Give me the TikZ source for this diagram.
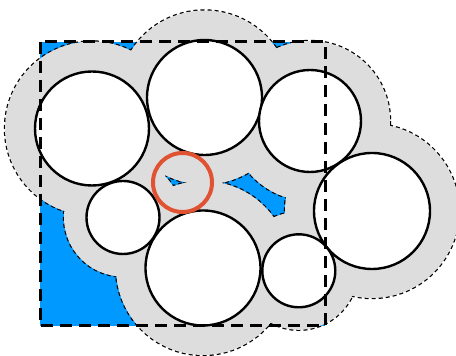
\documentclass[tikz,border=0pt]{standalone}
\usetikzlibrary{calc}
\definecolor{poreblue}{RGB}{0,153,255}
\definecolor{shellgray}{RGB}{221,221,221}
\definecolor{probeorange}{RGB}{224,82,50}

\begin{document}
\begin{tikzpicture}[x=0.5pt,y=-0.5pt,
    shellline/.style={line width=1.2pt,dash pattern=on 2pt off 1.5pt},
    shell/.style={fill=shellgray},
    ball/.style={draw=black,fill=white,line width=1.2pt},
    box/.style={line width=1.5pt,dash pattern=on 6pt off 3.5pt},
    probe/.style={draw=probeorange,line width=2pt}]
  \useasboundingbox (0,0) rectangle (456,356);
  \coordinate (A) at (92,128.5); \coordinate (B) at (204.5,97.5); \coordinate (C) at (310,121); \coordinate (D) at (372,211);
  \coordinate (E) at (123,217.5); \coordinate (F) at (203,268); \coordinate (G) at (298.8,270.8); \coordinate (P) at (182.5,182.5);
  \fill[poreblue] (40,42) rectangle (325,326);
  \foreach \p/\r/\s in {A/57/87,B/57.5/87,C/51/80,D/58/87,E/36.5/59,F/57.5/87,G/36.5/59}\draw[shellline](\p)circle(\s);
  \foreach \p/\r/\s in {A/57/87,B/57.5/87,C/51/80,D/58/87,E/36.5/59,F/57.5/87,G/36.5/59}\fill[shell](\p)circle(\s);
  \foreach \p/\r/\s in {A/57/87,B/57.5/87,C/51/80,D/58/87,E/36.5/59,F/57.5/87,G/36.5/59}\draw[ball](\p)circle(\r);
  \draw[box] (40,42) rectangle (325,326);
  \draw[probe] (P) circle (29.5);
\end{tikzpicture}
\end{document}
